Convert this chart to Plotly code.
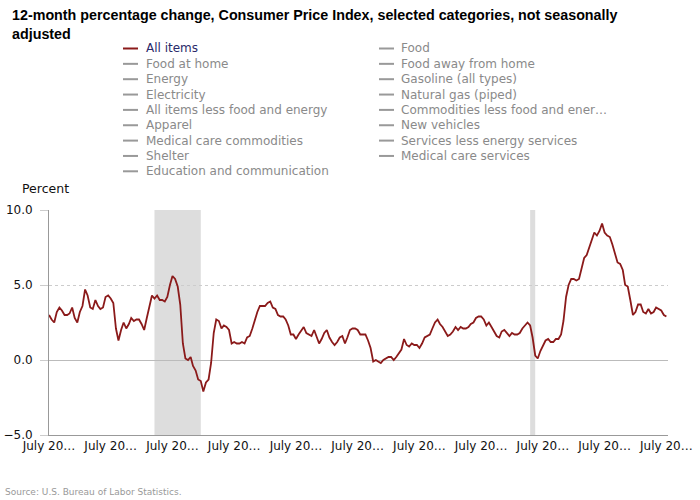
import plotly.graph_objects as go
import pandas as pd

# ---------------- data ----------------
START_MONTH = "2004-07-01"
END_MONTH = "2024-07-01"
ALL_ITEMS = [
    3.0, 2.7, 2.5, 3.2, 3.5, 3.3,
    3.0, 3.0, 3.1, 3.5, 2.8, 2.5, 3.2, 3.6, 4.7, 4.3, 3.5, 3.4,
    4.0, 3.6, 3.4, 3.5, 4.2, 4.3, 4.1, 3.8, 2.1, 1.3, 2.0, 2.5,
    2.1, 2.4, 2.8, 2.6, 2.7, 2.7, 2.4, 2.0, 2.8, 3.5, 4.3, 4.1,
    4.3, 4.0, 4.0, 3.9, 4.2, 5.0, 5.6, 5.4, 4.9, 3.7, 1.1, 0.1,
    0.0, 0.2, -0.4, -0.7, -1.3, -1.4, -2.1, -1.5, -1.3, -0.2, 1.8, 2.7,
    2.6, 2.1, 2.3, 2.2, 2.0, 1.1, 1.2, 1.1, 1.1, 1.2, 1.1, 1.5,
    1.6, 2.1, 2.7, 3.2, 3.6, 3.6, 3.6, 3.8, 3.9, 3.5, 3.4, 3.0,
    2.9, 2.9, 2.7, 2.3, 1.7, 1.7, 1.4, 1.7, 2.0, 2.2, 1.8, 1.7,
    1.6, 2.0, 1.5, 1.1, 1.4, 1.8, 2.0, 1.5, 1.2, 1.0, 1.2, 1.5,
    1.6, 1.1, 1.5, 2.0, 2.1, 2.1, 2.0, 1.7, 1.7, 1.7, 1.3, 0.8,
    -0.1, 0.0, -0.1, -0.2, 0.0, 0.1, 0.2, 0.2, 0.0, 0.2, 0.5, 0.7,
    1.4, 1.0, 0.9, 1.1, 1.0, 1.0, 0.8, 1.1, 1.5, 1.6, 1.7, 2.1,
    2.5, 2.7, 2.4, 2.2, 1.9, 1.6, 1.7, 1.9, 2.2, 2.0, 2.2, 2.1,
    2.1, 2.2, 2.4, 2.5, 2.8, 2.9, 2.9, 2.7, 2.3, 2.5, 2.2, 1.9,
    1.6, 1.5, 1.9, 2.0, 1.8, 1.6, 1.8, 1.7, 1.7, 1.8, 2.1, 2.3,
    2.5, 2.3, 1.5, 0.3, 0.1, 0.6, 1.0, 1.3, 1.4, 1.2, 1.2, 1.4,
    1.4, 1.7, 2.6, 4.2, 5.0, 5.4, 5.4, 5.3, 5.4, 6.2, 6.8, 7.0,
    7.5, 7.9, 8.5, 8.3, 8.6, 9.1, 8.5, 8.3, 8.2, 7.7, 7.1, 6.5,
    6.4, 6.0, 5.0, 4.9, 4.0, 3.0, 3.2, 3.7, 3.7, 3.2, 3.1, 3.4,
    3.1, 3.2, 3.5, 3.4, 3.3, 3.0, 2.9,
]
RECESSION_STARTS = ["2007-12-01", "2020-02-01"]
RECESSION_ENDS = ["2009-06-01", "2020-04-01"]
TICK_DATES = ["2004-07-01", "2006-07-01", "2008-07-01", "2010-07-01", "2012-07-01",
              "2014-07-01", "2016-07-01", "2018-07-01", "2020-07-01", "2022-07-01",
              "2024-07-01"]
TICK_LABELS = ["July 20…"] * len(TICK_DATES)
Y_TICKS = [-5, 0, 5, 10]
SERIES_NAMES = [
    "All items", "Food",
    "Food at home", "Food away from home",
    "Energy", "Gasoline (all types)",
    "Electricity", "Natural gas (piped)",
    "All items less food and energy", "Commodities less food and ener…",
    "Apparel", "New vehicles",
    "Medical care commodities", "Services less energy services",
    "Shelter", "Medical care services",
    "Education and communication",
]
SHOWN = ["All items"]
TITLE = ("12-month percentage change, Consumer Price Index, selected categories, "
         "not seasonally<br>adjusted")

dates = pd.date_range(START_MONTH, END_MONTH, freq="MS")

# ---------------- layout geometry ----------------
W, H = 700, 500
ML, MR, MT, MB = 49, 32, 210, 65
PW, PH = W - ML - MR, H - MT - MB
FONT = "DejaVu Sans"
RED = "#8b1a1a"


def fx(px):
    return (px - ML) / PW


def fy(py):
    return (H - MB - py) / PH


fig = go.Figure()
fig.add_trace(go.Scatter(
    x=dates, y=ALL_ITEMS, mode="lines", name="All items",
    line=dict(color=RED, width=1.8), showlegend=False,
    hovertemplate="%{x|%b %Y}: %{y:.1f}<extra>All items</extra>",
))

shapes = []
for s, e in zip(RECESSION_STARTS, RECESSION_ENDS):
    shapes.append(dict(type="rect", xref="x", yref="paper", x0=s, x1=e, y0=0, y1=1,
                       fillcolor="#dddddd", line=dict(width=0), layer="between"))

annotations = []
# legend (two columns, row-major order)
COL_LINE_X = [123, 379]
COL_TEXT_X = [146, 401]
ROW0_Y, ROW_STEP = 48.5, 15.35
for i, name in enumerate(SERIES_NAMES):
    r, c = divmod(i, 2)
    yy = fy(ROW0_Y + r * ROW_STEP)
    on = name in SHOWN
    shapes.append(dict(type="line", xref="paper", yref="paper",
                       x0=fx(COL_LINE_X[c]), x1=fx(COL_LINE_X[c] + 15), y0=yy, y1=yy,
                       line=dict(color=RED if on else "#999999", width=2)))
    annotations.append(dict(xref="paper", yref="paper", x=fx(COL_TEXT_X[c] - 2), y=yy,
                            xanchor="left", yanchor="middle", showarrow=False, text=name,
                            font=dict(family=FONT, size=12,
                                      color="#2a2a6a" if on else "#8a8a8a")))

annotations.append(dict(xref="paper", yref="paper", x=fx(20), y=fy(188), xanchor="left",
                        yanchor="middle", showarrow=False, text="Percent",
                        font=dict(family=FONT, size=12.5, color="#111111")))
annotations.append(dict(xref="paper", yref="paper", x=fx(3), y=fy(492), xanchor="left",
                        yanchor="middle", showarrow=False,
                        text="Source: U.S. Bureau of Labor Statistics.",
                        font=dict(family=FONT, size=9, color="#999999")))
annotations.append(dict(xref="paper", yref="paper", x=fx(10), y=fy(5), xanchor="left",
                        yanchor="top", align="left", showarrow=False, text=TITLE,
                        font=dict(family="Liberation Sans", size=14.3, color="#000000",
                                  weight="bold")))

fig.update_layout(
    width=W, height=H,
    margin=dict(l=ML, r=MR, t=MT, b=MB, pad=0, autoexpand=False),
    paper_bgcolor="white", plot_bgcolor="white",
    showlegend=False,
    xaxis=dict(
        type="date", range=["2004-07-01", "2024-07-20"], automargin=False,
        tickvals=TICK_DATES, ticktext=TICK_LABELS,
        showgrid=False, zeroline=False, showline=True, linecolor="#999999", linewidth=1,
        ticks="", tickfont=dict(family=FONT, size=12, color="#111111"),
    ),
    yaxis=dict(
        range=[-5, 10], tickvals=Y_TICKS, tickformat=".1f", automargin=False,
        showgrid=True, gridcolor="#cccccc", griddash="dot", gridwidth=1,
        zeroline=True, zerolinecolor="#bbbbbb", zerolinewidth=1,
        showline=True, linecolor="#999999", linewidth=1,
        ticks="outside", ticklen=8, tickcolor="#cccccc", ticklabelstandoff=5,
        tickfont=dict(family=FONT, size=12, color="#111111"),
    ),
    shapes=shapes, annotations=annotations,
)

fig.write_html("out.html")
